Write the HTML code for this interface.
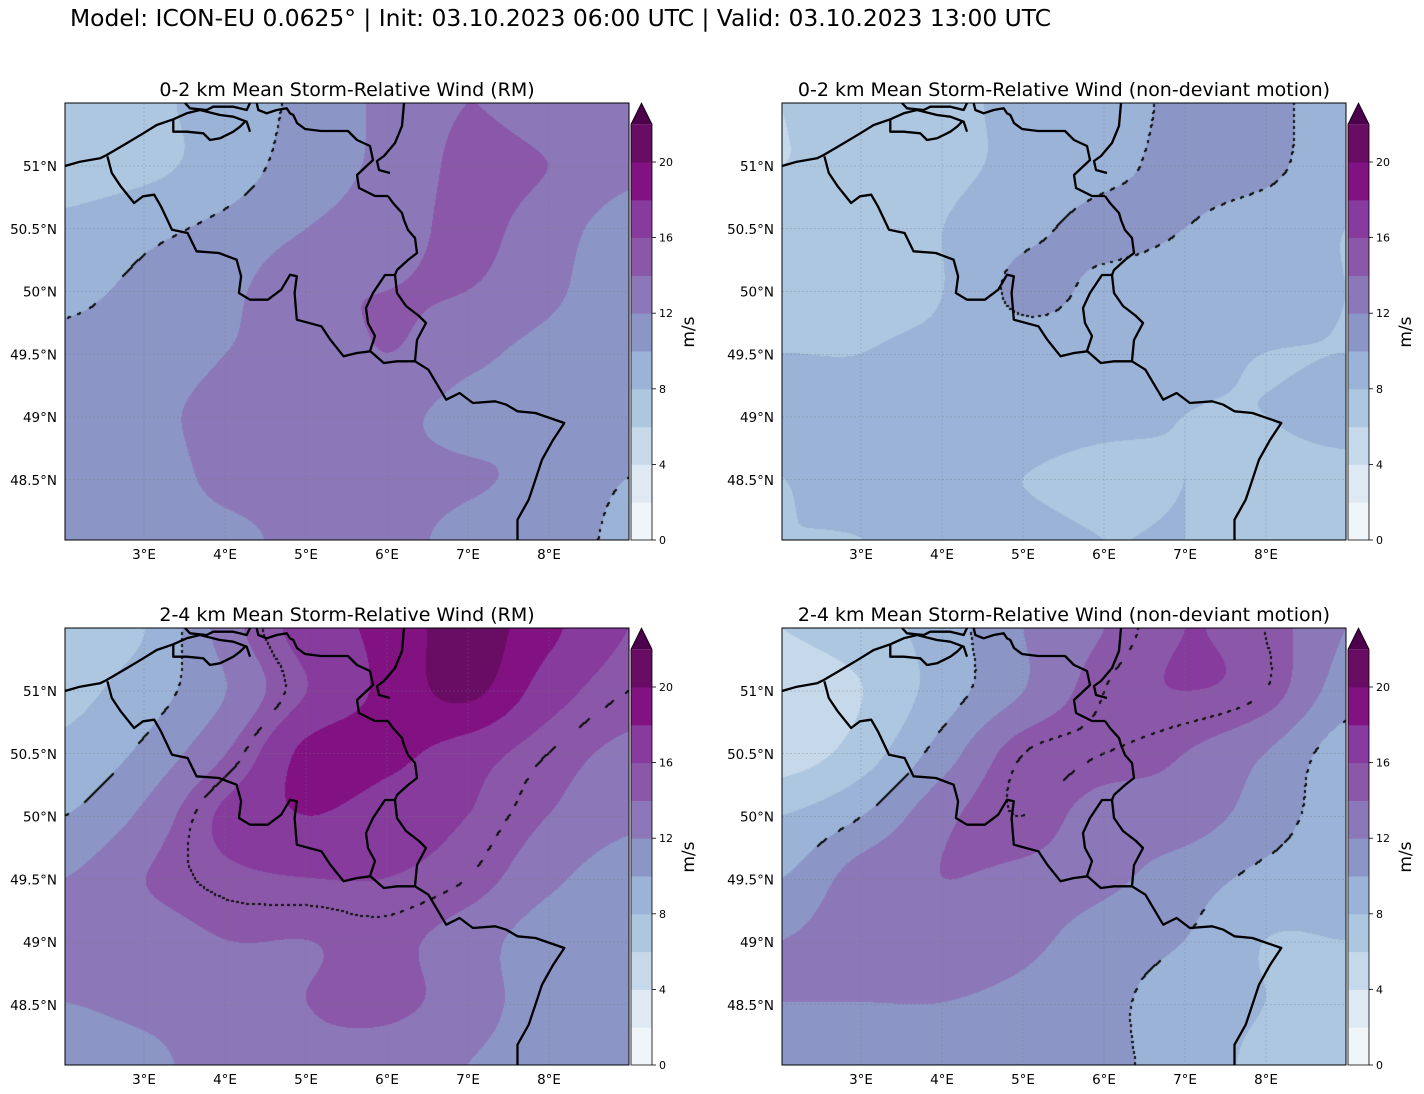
<!DOCTYPE html>
<html><head><meta charset="utf-8">
<style>
body{margin:0;background:#fff;width:1424px;height:1094px;overflow:hidden;position:relative;font-family:"DejaVu Sans","Liberation Sans",sans-serif;}
#title{position:absolute;left:70px;top:4px;font-size:23.4px;color:#000;white-space:nowrap;}
canvas{position:absolute;}
svg{position:absolute;left:0;top:0;}
</style></head><body>
<div id="title">Model: ICON-EU 0.0625° | Init: 03.10.2023 06:00 UTC | Valid: 03.10.2023 13:00 UTC</div>
<svg id="svg" width="1424" height="1094" xmlns="http://www.w3.org/2000/svg"></svg>
<script>
// ---- data ----
const levels=[0,2,4,6,8,10,12,14,16,18,20,22];
const bandColors=["#f0f5f9","#dfe9f3","#c6d9ea","#adc7e0","#9ab3d7","#8c96c6","#8c78b9","#8b58a9","#873c9d","#821282","#690c64"];
const extendColor="#4d004b";
const cbTicks=[0,4,8,12,16,20];
const lonTicks=[3,4,5,6,7,8];
const latTicks=[51,50.5,50,49.5,49,48.5];
const contourLevels=[10,15];
const panelTitles=["0-2 km Mean Storm-Relative Wind (RM)","0-2 km Mean Storm-Relative Wind (non-deviant motion)","2-4 km Mean Storm-Relative Wind (RM)","2-4 km Mean Storm-Relative Wind (non-deviant motion)"];
// grids: rows lat 51.5 -> 48 (step 0.5), cols lon 2 -> 9 (step 1), m/s
const field1=[
[7,7.5,9,10.5,12.5,14,13,12],
[7,7.5,9,11,12.5,14.5,14,12.5],
[8.5,9.5,10.5,12,13,14.5,13,11],
[9.5,10.5,11.5,13.5,14,14,12.5,10.5],
[10.5,11,12,12.5,14,12.5,11.5,11],
[10.5,11.5,12.5,12.5,12.5,11.5,12,11.5],
[10.5,11,12.5,12.5,12.5,12.2,11.5,10],
[10.5,11,11.5,12.5,12.5,11.5,11,9.5]];
const field2=[
[6,7,7.5,8.5,9,10.5,10.5,9],
[6,6.5,7.5,8.5,9.5,10.5,10.5,8.5],
[6.5,7,8,9.5,10.5,10,9,8],
[7,7.5,8,10.5,9.5,9,9,8],
[8,8,8.5,9,9,8.5,8,8],
[8.5,8.5,9.5,9,8.5,8,8,8.5],
[8,8.5,8.5,8,7.5,8,7.5,7.5],
[8,8,8.5,8.5,8,8,7,7]];
const field3=[
[7.5,8,13,17,18.5,21,18.5,16],
[7.5,9,12,16,18.5,20.5,17,15],
[8.5,10.5,14,18.5,18.5,17,15,13.5],
[10,12.5,16.5,18,17,16,14,12.5],
[12,14,15.5,16,16,15,12.5,11],
[13,13,14,14,14.5,13,11,11],
[12,12.5,13,14,14.5,13,11,11],
[11,11.5,13,13.5,13,12,11,11]];
const field4=[
[6,7,9,12,14,16,15,12],
[5,6,9,12,15,16,15,11],
[5,7,11,15,15,14,12,9],
[8,10,13.5,15,13,13,11,9],
[10,13,14,13.5,12.5,11,9.5,9],
[12,13,13,12.5,11,10,8,8],
[12,12,12,11.5,10.5,9,8,7],
[10.5,11,11,11,10.5,9,7.5,6.5]];
const fields=[field1,field2,field3,field4];

// ---- geometry ----
const panels=[{x:65,y:103},{x:782,y:103},{x:65,y:628},{x:782,y:628}];
const PW=564,PH=437;
const lonX=lon=>(lon-2)*81-2;
const latY=lat=>63+(51-lat)*125.5;
const borders=[
[[0,63],[15,58.7],[35,55.3],[41.7,52],[61.7,40.3],[78.3,30.3],[91.7,22],[108.3,16.3],[121.7,10.3],[135,7],[155,12],[168.3,13.7],[181.7,18.7],[185,28.7]],
[[108.3,16.3],[108.3,28.7],[121.7,28.7],[138.3,30.3],[145,37],[155,35.3],[168.3,28.7],[175,23.7],[180,18.7]],
[[120,0],[125,5.3],[141.7,7],[148.3,3.7],[168.3,3.7],[181.7,7],[185,0]],
[[191.7,0],[193.3,7],[201.7,10.3],[211.7,7],[221.7,5.3],[225,10.3],[228.3,12],[232,20],[240,26],[256,28],[283,28],[292,37],[305,43],[308,57],[292,72],[294,85],[310,93],[323,93]],
[[339,0],[337,23],[330,40],[319,53],[312,58],[314,67],[325,70]],
[[323,93],[328,100],[337,110],[339,117],[343,127],[350,135],[352,150],[343,157],[332,167],[330,172],[320,172],[308,190],[301,205],[303,220],[310,233],[305,248]],
[[330,172],[332,190],[341,203],[354,213],[361,220],[352,237],[350,258]],
[[42.4,53.3],[46.8,70],[55.7,83.3],[69.1,100],[78,93.3],[89.2,91.7],[95.9,103.3],[107,126.7],[122.6,130],[131.5,148.3],[153.8,150],[171.6,156.7],[176.1,173.3],[173.9,190],[185,196.7],[202.9,196.7],[216.2,186.7],[225.1,171.7],[231.8,173.3],[229.6,190],[231.8,216.7],[256.4,223.3],[265.3,236.7],[278.6,253.3],[292,250],[305.4,248.3],[318.8,260],[332.1,258.3],[350,258.3],[363.4,266.7],[381.2,296.7],[394.6,290],[407.9,300],[430.2,298.3],[441.4,301.7],[452.5,308.3],[470.4,310],[499.3,320],[488.2,336.7],[477,356.7],[470.4,376.7],[463.7,396.7],[452.5,416.7],[452.5,437]]
];

function cr(p0,p1,p2,p3,t){return p1+0.5*t*(p2-p0+t*(2*p0-5*p1+4*p2-p3+t*(3*(p1-p2)+p3-p0)));}
function sample(g,u,v){
  const R=g.length,C=g[0].length;
  const i=Math.floor(v),j=Math.floor(u),tv=v-i,tu=u-j;
  const at=(r,c)=>g[Math.max(0,Math.min(R-1,r))][Math.max(0,Math.min(C-1,c))];
  const rows=[];
  for(let k=-1;k<3;k++) rows.push(cr(at(i+k,j-1),at(i+k,j),at(i+k,j+1),at(i+k,j+2),tu));
  return cr(rows[0],rows[1],rows[2],rows[3],tv);
}
function hex(c){return [parseInt(c.slice(1,3),16),parseInt(c.slice(3,5),16),parseInt(c.slice(5,7),16)];}
const rgbBands=bandColors.map(hex), rgbExt=hex(extendColor);
function colorFor(v){
  if(v>=levels[levels.length-1]) return rgbExt;
  let k=0; for(let i=0;i<levels.length-1;i++){ if(v>=levels[i]) k=i; }
  return rgbBands[k];
}
function cClass(v){let k=0;for(const L of contourLevels) if(v>=L) k++;return k;}

const svg=document.getElementById('svg');
const NS="http://www.w3.org/2000/svg";
function el(tag,attrs,parent){const e=document.createElementNS(NS,tag);for(const k in attrs)e.setAttribute(k,attrs[k]);(parent||svg).appendChild(e);return e;}

panels.forEach((P,pi)=>{
  const g=fields[pi];
  const cv=document.createElement('canvas');
  cv.width=PW;cv.height=PH;cv.style.left=P.x+'px';cv.style.top=P.y+'px';
  
  
  document.body.insertBefore(cv,svg);
  const ctx=cv.getContext('2d');
  const img=ctx.createImageData(PW,PH);
  const vals=new Float32Array(PW*PH);
  for(let y=0;y<PH;y++)for(let x=0;x<PW;x++){
    const v=sample(g,x/(PW-1)*(g[0].length-1),y/(PH-1)*(g.length-1));
    vals[y*PW+x]=v;
    const c=colorFor(v),o=(y*PW+x)*4;
    img.data[o]=c[0];img.data[o+1]=c[1];img.data[o+2]=c[2];img.data[o+3]=255;
  }
  const mark=(x,y)=>{if(x<0||y<0||x>=PW||y>=PH)return;const o=(y*PW+x)*4;img.data[o]=15;img.data[o+1]=15;img.data[o+2]=15;};
  for(let y=0;y<PH-1;y++)for(let x=0;x<PW-1;x++){
    const a=cClass(vals[y*PW+x]);
    if((a!==cClass(vals[y*PW+x+1])||a!==cClass(vals[(y+1)*PW+x]))&&(((x+y)>>1)%3===0)){
      mark(x,y);mark(x+1,y);mark(x,y+1);mark(x+1,y+1);
    }
  }
  ctx.putImageData(img,0,0);

  const grp=el('g',{transform:`translate(${P.x},${P.y})`});
  
  
  const cid='clip'+pi;
  const cp=el('clipPath',{id:cid},grp);el('rect',{x:0,y:0,width:PW,height:PH},cp);
  lonTicks.forEach(l=>{const ln=el('line',{x1:lonX(l),x2:lonX(l),y1:0,y2:PH,stroke:'#777','stroke-width':0.5,'stroke-dasharray':'2,2','stroke-opacity':0.6},grp);
    });
  latTicks.forEach(l=>{const ln=el('line',{x1:0,x2:PW,y1:latY(l),y2:latY(l),stroke:'#777','stroke-width':0.5,'stroke-dasharray':'2,2','stroke-opacity':0.6},grp);
    });
  const bg=el('g',{'clip-path':`url(#${cid})`},grp);
  
  borders.forEach(b=>{el('polyline',{points:b.map(p=>p.join(',')).join(' '),fill:'none',stroke:'#000','stroke-width':2.3,'stroke-linejoin':'round'},bg);});
  el('rect',{x:0,y:0,width:PW,height:PH,fill:'none',stroke:'#000','stroke-width':1},grp);
  const t=el('text',{x:PW/2,y:-7,'text-anchor':'middle','font-size':19,fill:'#000'},grp);
  t.textContent=panelTitles[pi];
  
  latTicks.forEach(l=>{const tx=el('text',{x:-8,y:latY(l)+5,'text-anchor':'end','font-size':13.5,fill:'#000'},grp);tx.textContent=l+'°N';
    });
  lonTicks.forEach(l=>{const tx=el('text',{x:lonX(l),y:PH+19,'text-anchor':'middle','font-size':13.5,fill:'#000'},grp);tx.textContent=l+'°E';
    });
  const cb=el('g',{transform:`translate(${PW+2},0)`},grp);
  
  const step=37.8, top=PH-step*(levels.length-1);
  bandColors.forEach((c,i)=>{el('rect',{x:0,y:PH-(i+1)*step,width:21,height:step+0.5,fill:c},cb);});
  el('polygon',{points:`0,${top} 21,${top} 10.5,0`,fill:extendColor},cb);
  el('polygon',{points:`0,${PH} 0,${top} 10.5,0 21,${top} 21,${PH}`,fill:'none',stroke:'#000','stroke-width':0.8},cb);
  cbTicks.forEach(v=>{const y=PH-v/2*step;el('line',{x1:21,x2:25,y1:y,y2:y,stroke:'#000','stroke-width':0.8},cb);
    const tx=el('text',{x:28,y:y+4,'font-size':11,fill:'#000'},cb);tx.textContent=v;
    });
  const ul=el('text',{x:0,y:0,'font-size':17,fill:'#000','text-anchor':'middle',transform:`translate(63,${top+(PH-top)/2}) rotate(-90)`},cb);
  ul.textContent='m/s';
});
</script>
</body></html>
